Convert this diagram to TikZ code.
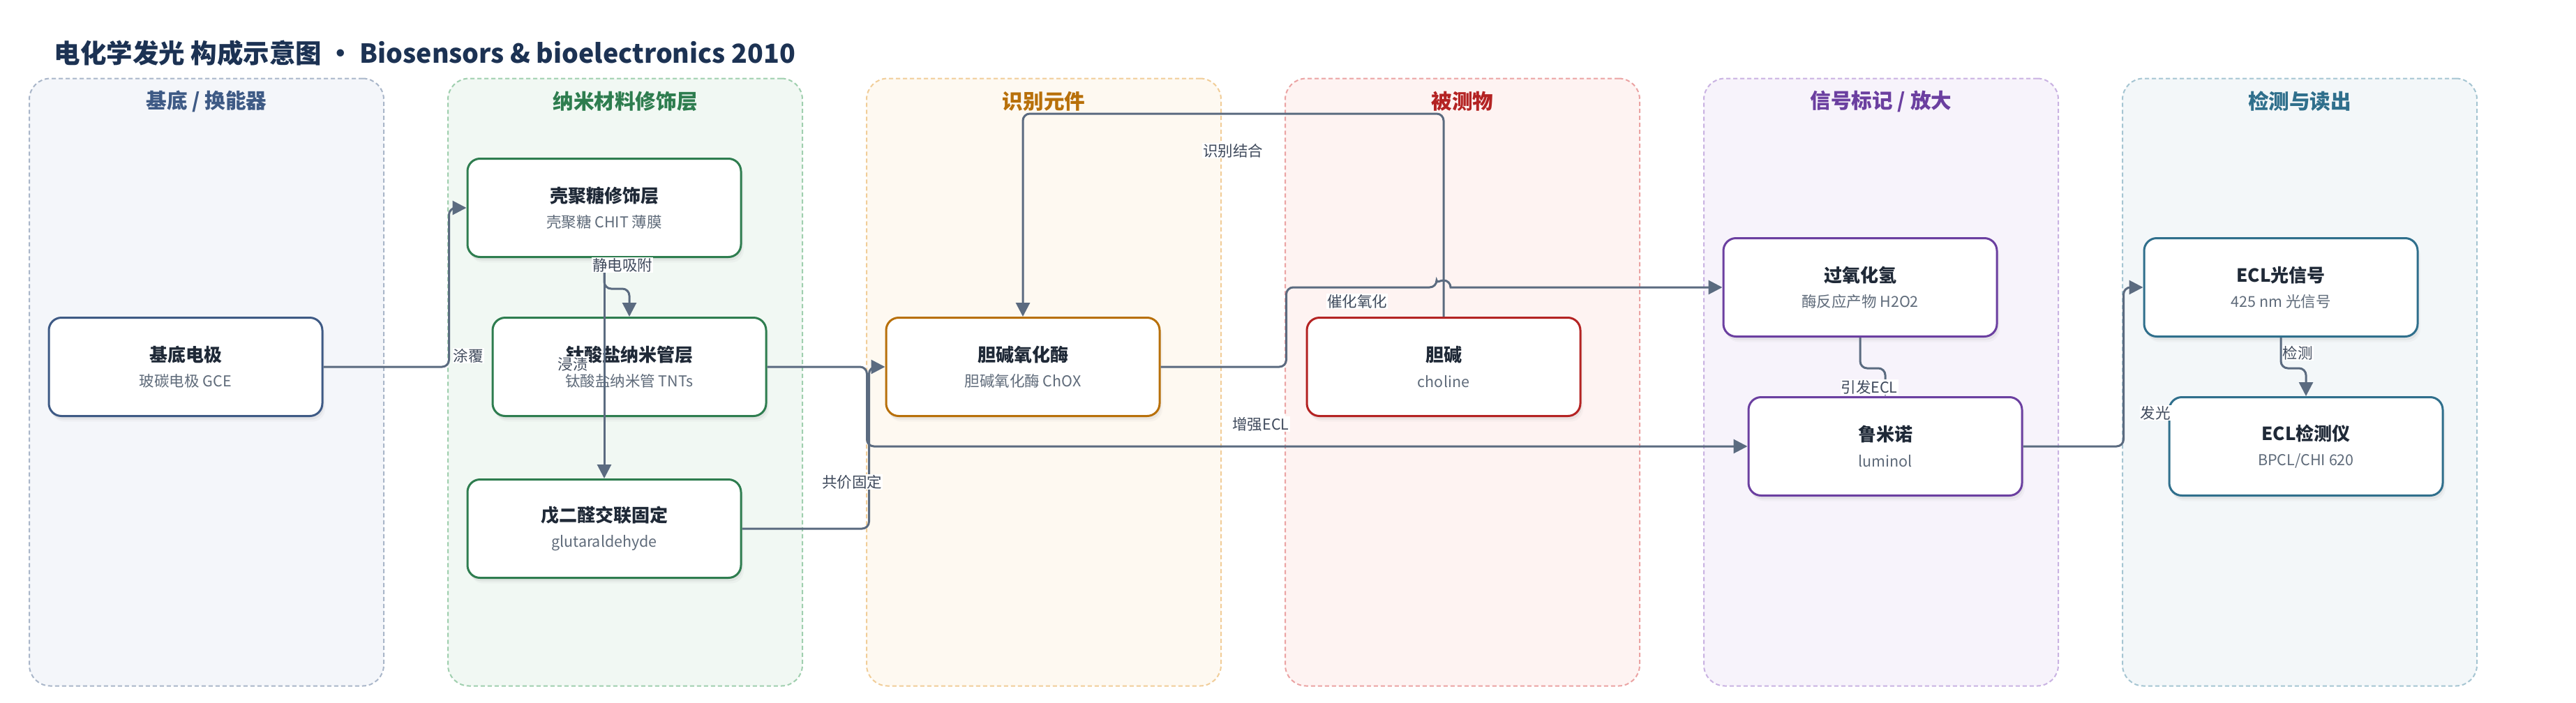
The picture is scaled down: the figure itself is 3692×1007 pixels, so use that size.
\documentclass[tikz,border=0pt]{standalone}
\usepackage{fontspec}
\setmainfont{Noto Sans CJK SC}
\usepackage{tikz}
\usetikzlibrary{arrows.meta,positioning,calc,shadows}

% ---- Colours ----
\definecolor{edgec}{HTML}{5B6B80}
\definecolor{headc}{HTML}{1C3253}
\definecolor{nodetext}{HTML}{1F2937}
\definecolor{subtext}{HTML}{5F6B7A}
\definecolor{lbltext}{HTML}{3F4A5C}
\definecolor{slateM}{HTML}{3E5A85}\definecolor{slateF}{HTML}{F4F6FA}\definecolor{slateD}{HTML}{A9B6C9}
\definecolor{greenM}{HTML}{2E7D4F}\definecolor{greenF}{HTML}{F1F8F3}\definecolor{greenD}{HTML}{9FCFAE}
\definecolor{orangeM}{HTML}{B8700A}\definecolor{orangeF}{HTML}{FEF9F1}\definecolor{orangeD}{HTML}{F1CD98}
\definecolor{redM}{HTML}{B42323}\definecolor{redF}{HTML}{FEF3F2}\definecolor{redD}{HTML}{EBA3A3}
\definecolor{purpleM}{HTML}{6B3FA0}\definecolor{purpleF}{HTML}{F7F3FB}\definecolor{purpleD}{HTML}{C9B2E2}
\definecolor{tealM}{HTML}{2F6F8C}\definecolor{tealF}{HTML}{F3F7F9}\definecolor{tealD}{HTML}{A5C5D2}

\newcommand{\stagetxt}[2]{{\fontsize{26}{36.5}\selectfont\bfseries\color{nodetext}#1}\\{\color{subtext}#2}}

\tikzset{
  >=Stealth,
  every node/.append style={font=\fontsize{21.5}{26}\selectfont},
}
\tikzset{
  stage/.style={draw=#1M, fill=white, line width=3pt, rounded corners=18pt,
    minimum width=392pt, minimum height=141pt, align=center,
    font=\fontsize{21.5}{36.5}\selectfont,
    drop shadow={shadow xshift=2pt, shadow yshift=-5pt, opacity=.10},
    drop shadow={shadow xshift=4pt, shadow yshift=-8pt, opacity=.05}},
  lane/.style={draw=#1D, fill=#1F, line width=2pt, dash pattern=on 6pt off 4pt,
    rounded corners=30pt, minimum width=508pt, minimum height=871pt},
  flow/.style={draw=edgec, line width=3pt, rounded corners=10pt,
    -{Triangle[length=20pt, width=20pt]}},
  lbl/.style={fill=white, inner sep=1pt, text=lbltext, font=\fontsize{21.5}{24}\selectfont}
}

\begin{document}
\begin{tikzpicture}[x=1pt, y=-1pt,
  lanetitle/.style={text=#1M, font=\fontsize{29.6}{34}\selectfont\bfseries},
  heading/.style={text=headc, font=\fontsize{37.5}{44}\selectfont\bfseries}
]

% ---- Canvas ----
\useasboundingbox[fill=white] (0,0) rectangle (3692,1007);

% ---- Title ----
\node[heading, anchor=west] (title) at (74,76) {电化学发光 构成示意图 • Biosensors \& bioelectronics 2010};

% ---- Lanes ----
\node[lane=slate]  (lsub)  at (296,548) {};
\node[lane=green]  (lnano) at (896,548) {};
\node[lane=orange] (lrec)  at (1496,548) {};
\node[lane=red]    (lana)  at (2096,548) {};
\node[lane=purple] (llab)  at (2696,548) {};
\node[lane=teal]   (lout)  at (3296,548) {};

\node[lanetitle=slate]  (tsub)  at ([yshift=-33.5pt]lsub.north)  {基底 / 换能器};
\node[lanetitle=green]  (tnano) at ([yshift=-33.5pt]lnano.north) {纳米材料修饰层};
\node[lanetitle=orange] (trec)  at ([yshift=-33.5pt]lrec.north)  {识别元件};
\node[lanetitle=red]    (tana)  at ([yshift=-33.5pt]lana.north)  {被测物};
\node[lanetitle=purple] (tlab)  at ([yshift=-33.5pt]llab.north)  {信号标记 / 放大};
\node[lanetitle=teal]   (tout)  at ([yshift=-33.5pt]lout.north)  {检测与读出};

% ---- Stages ----
\node[stage=slate] (gce) at (266,526) {\stagetxt{基底电极}{玻碳电极 GCE}};

\node[stage=green] (chit) at (866,298) {\stagetxt{壳聚糖修饰层}{壳聚糖 CHIT 薄膜}};
\node[stage=green] (tnts) at (902,526) {\stagetxt{钛酸盐纳米管层}{钛酸盐纳米管 TNTs}};
\node[stage=green, below=316pt of chit] (glut) {\stagetxt{戊二醛交联固定}{glutaraldehyde}};

\node[stage=orange] (chox) at (1466,526) {\stagetxt{胆碱氧化酶}{胆碱氧化酶 ChOX}};
\node[stage=red, right=208pt of chox] (choline) {\stagetxt{胆碱}{choline}};

\node[stage=purple] (h2o2) at (2666,412) {\stagetxt{过氧化氢}{酶反应产物 H2O2}};
\node[stage=purple] (lum) at (2702,640) {\stagetxt{鲁米诺}{luminol}};

\node[stage=teal, right=208pt of h2o2] (eclsig) {\stagetxt{ECL光信号}{425 nm 光信号}};
\node[stage=teal, right=208pt of lum] (ecldet) {\stagetxt{ECL检测仪}{BPCL/CHI 620}};

% ---- Connectors ----
\draw[flow] (gce.east) -- ++(180,0) |- (chit.west);
\draw[flow] (chit.south) -- ++(0,44) -| (tnts.north);
\draw[flow] (chit.south) -- (glut.north);
\draw[flow] (glut.east) -- ++(182,0) |- (chox.west);
\draw[flow] (tnts.east) -- ++(143,0) |- (lum.west);
\draw[flow] (choline.north) -- ++(0,-291) -| (chox.north);

% line jump over the choline riser
\coordinate (hop) at ($(choline.north |- h2o2.west)+(-10,0)$);
\draw[flow] (chox.east) -- ++(180,0) |- (hop) [sharp corners]
  arc[start angle=180, end angle=0, radius=10pt] -- (h2o2.west);

\draw[flow] (h2o2.south) -- ++(0,44) -| (lum.north);
\draw[flow] (lum.east) -- ++(144,0) |- (eclsig.west);
\draw[flow] (eclsig.south) -- ++(0,44) -| (ecldet.north);

% ---- Connector labels ----
\node[lbl] (lcoat)   at (671,510)  {涂覆};
\node[lbl] (ladsorb) at (892,380)  {静电吸附};
\node[lbl] (lsoak)   at (821,522)  {浸渍};
\node[lbl] (lcov)    at (1221,691) {共价固定};
\node[lbl] (lrecog)  at (1767,216) {识别结合};
\node[lbl] (lcat)    at (1945,432) {催化氧化};
\node[lbl] (lenh)    at (1807,608) {增强ECL};
\node[lbl] (ltrig)   at (2679,555) {引发ECL};
\node[lbl] (ldet)    at (3293,506) {检测};
\node[lbl] (lemit)   at (3089,592) {发光};

\end{tikzpicture}
\end{document}
